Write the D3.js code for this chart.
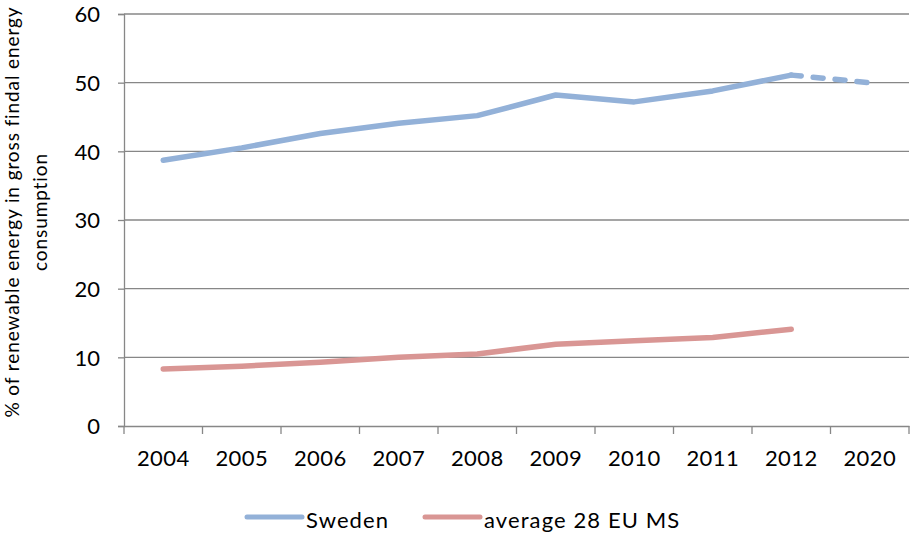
<!DOCTYPE html>
<html>
<head>
<meta charset="utf-8"/>
<title>Renewable energy share</title>
<script src="https://cdn.jsdelivr.net/npm/d3@7"></script>
<style>
  body { margin:0; background:#fff; }
  svg text { font-family: Lato, "Open Sans", sans-serif; fill:#000; }
</style>
</head>
<body>
<div id="chart"></div>
<script>
// data
var years = ["2004","2005","2006","2007","2008","2009","2010","2011","2012","2020"];
var sweden = [38.7, 40.5, 42.6, 44.1, 45.2, 48.2, 47.2, 48.8, 51.1, 50.0];
var eu28 = [8.3, 8.7, 9.3, 10.0, 10.5, 11.9, 12.4, 12.9, 14.1];
var yTicks = [0, 10, 20, 30, 40, 50, 60];
var seriesNames = ["Sweden", "average 28 EU MS"];
var colors = ["#93b1d8", "#d99694"];

var width = 912, height = 534;
var m = {top:14, left:124, right:3, bottom:108};

var svg = d3.select("#chart").append("svg")
  .attr("width", width)
  .attr("height", height);

var x = d3.scaleBand().domain(years).range([m.left, width - m.right]).padding(0);
var y = d3.scaleLinear().domain([0, 60]).range([height - m.bottom, m.top]);
var cx = function(d){ return x(d) + x.bandwidth()/2; };
var grey = "#878787";

// gridlines
svg.append("g").selectAll("line").data(yTicks.slice(1)).enter().append("line")
  .attr("x1", m.left).attr("x2", width - m.right)
  .attr("y1", function(d){ return y(d); }).attr("y2", function(d){ return y(d); })
  .attr("stroke", grey).attr("stroke-width", 1.3);

// y axis
var yAxis = svg.append("g").attr("transform", "translate(" + m.left + ",0)")
  .call(d3.axisLeft(y).tickValues(yTicks).tickSize(6).tickPadding(18));
yAxis.select(".domain").attr("stroke", grey).attr("stroke-width", 1.3);
yAxis.selectAll(".tick line").attr("stroke", grey).attr("stroke-width", 1.3);
yAxis.selectAll(".tick text").style("font-size", "22px").attr("dy", "0.36em");

// x axis: labels at band centres, ticks at band boundaries
var xAxis = svg.append("g").attr("transform", "translate(0," + y(0) + ")")
  .call(d3.axisBottom(x).tickSize(0).tickPadding(24));
xAxis.select(".domain").attr("stroke", grey).attr("stroke-width", 1.3);
xAxis.selectAll(".tick text").style("font-size", "22px").style("letter-spacing", "0.4px").attr("dy", "0.71em");
var bounds = years.map(function(d){ return x(d); }).concat([x.range()[1]]);
xAxis.selectAll("line.bt").data(bounds).enter().append("line")
  .attr("class", "bt")
  .attr("x1", function(d){ return d; }).attr("x2", function(d){ return d; })
  .attr("y1", 0).attr("y2", 8)
  .attr("stroke", grey).attr("stroke-width", 1.3);

// y title
var yt = svg.append("text")
  .attr("transform", "translate(0," + ((y(0) + y(60)) / 2 - 8) + ") rotate(-90)")
  .attr("text-anchor", "middle")
  .style("font-size", "19px")
  .style("letter-spacing", "0.9px");
yt.append("tspan").attr("x", 0).attr("y", 19).text("% of renewable energy in gross findal energy");
yt.append("tspan").attr("x", 0).attr("y", 47).text("consumption");

// lines
var line = d3.line()
  .x(function(d){ return cx(d[0]); })
  .y(function(d){ return y(d[1]); });

var swePts = years.map(function(d, i){ return [d, sweden[i]]; });
var euPts = eu28.map(function(v, i){ return [years[i], v]; });

svg.append("path").datum(swePts.slice(0, 9)).attr("d", line)
  .attr("fill", "none").attr("stroke", colors[0]).attr("stroke-width", 5.5)
  .attr("stroke-linecap", "round").attr("stroke-linejoin", "round");
svg.append("path").datum(swePts.slice(8)).attr("d", line)
  .attr("fill", "none").attr("stroke", colors[0]).attr("stroke-width", 5.5)
  .attr("stroke-dasharray", "10,12")
  .attr("stroke-linecap", "round");
svg.append("path").datum(euPts).attr("d", line)
  .attr("fill", "none").attr("stroke", colors[1]).attr("stroke-width", 5.5)
  .attr("stroke-linecap", "round").attr("stroke-linejoin", "round");

// legend
var legX = [247, 425];
var leg = svg.append("g").selectAll("g").data(seriesNames).enter().append("g")
  .attr("transform", function(d, i){ return "translate(" + legX[i] + ",517)"; });
leg.append("line").attr("x1", 0).attr("x2", 55).attr("y1", 0).attr("y2", 0)
  .attr("stroke", function(d, i){ return colors[i]; })
  .attr("stroke-width", 5).attr("stroke-linecap", "round");
leg.append("text").attr("x", 59).attr("y", 11)
  .style("font-size", "22px").style("letter-spacing", "1.1px")
  .text(function(d){ return d; });
</script>
</body>
</html>
